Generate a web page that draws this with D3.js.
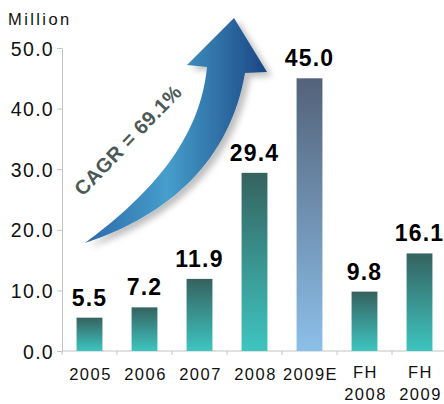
<!DOCTYPE html>
<html>
<head>
<meta charset="utf-8">
<script src="https://cdn.jsdelivr.net/npm/d3@7"></script>
<style>
  body { margin: 0; background: #fff; }
  text { font-family: "Liberation Sans", Arial, sans-serif; }
</style>
</head>
<body>
<svg id="chart"></svg>
<script>
// data
const categories = ['2005', '2006', '2007', '2008', '2009E', 'FH 2008', 'FH 2009']
const values = [5.5, 7.2, 11.9, 29.4, 45.0, 9.8, 16.1]
const estimated = [false, false, false, false, true, false, false]
const yTicks = [0, 10, 20, 30, 40, 50]
const cagrText = 'CAGR = 69.1%'
const unitText = 'Million'

const width = 444, height = 404

const svg = d3.select('#chart')
    .attr('width', width)
    .attr('height', height)

const defs = svg.append('defs')

const teal = defs.append('linearGradient')
    .attr('id', 'teal').attr('x1', 0).attr('y1', 0).attr('x2', 0).attr('y2', 1)
teal.append('stop').attr('offset', '0%').attr('stop-color', '#35625f')
teal.append('stop').attr('offset', '100%').attr('stop-color', '#3ec5c0')

const slate = defs.append('linearGradient')
    .attr('id', 'slate').attr('x1', 0).attr('y1', 0).attr('x2', 0).attr('y2', 1)
slate.append('stop').attr('offset', '0%').attr('stop-color', '#536279')
slate.append('stop').attr('offset', '100%').attr('stop-color', '#8cbfe9')

const arrowGrad = defs.append('linearGradient')
    .attr('id', 'arrowGrad').attr('gradientUnits', 'userSpaceOnUse')
    .attr('x1', 85).attr('y1', 0).attr('x2', 267).attr('y2', 0)
arrowGrad.append('stop').attr('offset', '0%').attr('stop-color', '#2c68aa')
arrowGrad.append('stop').attr('offset', '45%').attr('stop-color', '#469ecb')
arrowGrad.append('stop').attr('offset', '100%').attr('stop-color', '#1b4683')

const shadow = defs.append('filter').attr('id', 'shadow')
    .attr('x', '-20%').attr('y', '-20%').attr('width', '140%').attr('height', '140%')
shadow.append('feDropShadow')
    .attr('dx', 5).attr('dy', 4).attr('stdDeviation', 3)
    .attr('flood-color', '#000').attr('flood-opacity', 0.25)

// scales
const x = d3.scaleBand()
    .domain(categories)
    .range([62, 447])
    .paddingInner(0.53)
    .paddingOuter(0.265)

const y = d3.scaleLinear()
    .domain([0, 50])
    .range([351, 48])

// y axis
const yAxis = d3.axisLeft(y)
    .tickValues(yTicks)
    .tickFormat(d3.format('.1f'))
    .tickSize(5)
    .tickSizeOuter(0)
    .tickPadding(3)

const yAxisGroup = svg.append('g')
    .attr('transform', 'translate(62,0)')
    .call(yAxis)
yAxisGroup.selectAll('path, line').attr('stroke', '#c4c4c4')
yAxisGroup.selectAll('text')
    .attr('fill', '#111')
    .style('font-size', '19.5px')
    .style('letter-spacing', '1.3px')
    .attr('dy', '0.36em')

// x axis line + boundary ticks
const step = x.step()
const bounds = categories.map(c => x(c) - step * x.paddingInner() / 2)
bounds.push(x.range()[1])

svg.append('line')
    .attr('x1', x.range()[0]).attr('x2', x.range()[1])
    .attr('y1', y(0)).attr('y2', y(0))
    .attr('stroke', '#c4c4c4')

svg.selectAll('.xtick')
    .data(bounds)
    .join('line')
    .attr('class', 'xtick')
    .attr('x1', d => d).attr('x2', d => d)
    .attr('y1', y(0)).attr('y2', y(0) + 4)
    .attr('stroke', '#c4c4c4')

// bars
svg.selectAll('.bar')
    .data(categories)
    .join('rect')
    .attr('class', 'bar')
    .attr('x', d => x(d))
    .attr('width', x.bandwidth())
    .attr('y', (d, i) => y(values[i]))
    .attr('height', (d, i) => y(0) - y(values[i]))
    .attr('fill', (d, i) => estimated[i] ? 'url(#slate)' : 'url(#teal)')

// value labels
svg.selectAll('.val')
    .data(categories)
    .join('text')
    .attr('class', 'val')
    .attr('x', d => x(d) + x.bandwidth() / 2)
    .attr('y', (d, i) => y(values[i]) - 12)
    .attr('text-anchor', 'middle')
    .style('font-size', '23px')
    .style('font-weight', 'bold')
    .style('letter-spacing', '1.2px')
    .attr('fill', '#000')
    .text((d, i) => values[i].toFixed(1))

// category labels
const catLabels = svg.selectAll('.cat')
    .data(categories)
    .join('text')
    .attr('class', 'cat')
    .attr('text-anchor', 'middle')
    .style('font-size', '16.5px')
    .style('letter-spacing', '1.5px')
    .attr('fill', '#111')

catLabels.each(function (d) {
    const parts = d.split(' ')
    const cx = x(d) + x.bandwidth() / 2 + 1
    const t = d3.select(this)
    parts.forEach((p, j) => {
        t.append('tspan')
            .attr('x', cx)
            .attr('y', parts.length > 1 ? 378 + j * 22 : 380)
            .text(p)
    })
})

// unit
svg.append('text')
    .attr('x', 8)
    .attr('y', 25)
    .style('font-size', '16.5px')
    .style('letter-spacing', '2.4px')
    .attr('fill', '#111')
    .text(unitText)

// growth arrow
svg.append('path')
    .attr('d', 'M85,243 C170,215 230,160 245,73 L267,72 L234,18 L187,65 L207,67 C200,140 150,195 85,243 Z')
    .attr('fill', 'url(#arrowGrad)')
    .attr('filter', 'url(#shadow)')

svg.append('text')
    .attr('transform', 'translate(133,145) rotate(-46)')
    .attr('text-anchor', 'middle')
    .style('font-size', '20px')
    .style('font-weight', 'bold')
    .style('letter-spacing', '0.5px')
    .attr('fill', '#4b5a57')
    .text(cagrText)
</script>
</body>
</html>
